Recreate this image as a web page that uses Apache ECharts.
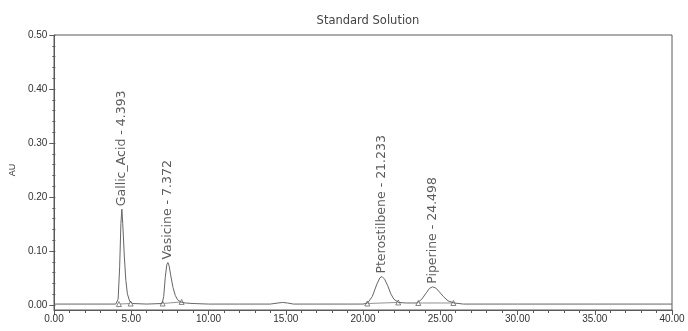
<!DOCTYPE html>
<html><head><meta charset="utf-8">
<script src="https://cdn.jsdelivr.net/npm/echarts@6/dist/echarts.min.js"></script>
<style>html,body{margin:0;padding:0;background:#fff}#c{width:688px;height:331px}</style>
</head><body><div id="c"></div>
<script>
// Chromatogram trace (retention time in min, absorbance AU)
const times = [0, 2, 4.0, 4.15, 4.25, 4.33, 4.393, 4.45, 4.55, 4.65,
  4.75, 4.9, 5.1, 6.0, 7.0, 7.1, 7.2, 7.3, 7.372, 7.45,
  7.55, 7.7, 7.85, 8.0, 8.2, 8.5, 9.0, 10, 12, 14,
  14.5, 14.8, 15.1, 15.5, 17, 19, 20.0, 20.3, 20.6, 20.9,
  21.1, 21.233, 21.4, 21.6, 21.8, 22.0, 22.3, 22.8, 23.2, 23.5,
  23.8, 24.1, 24.3, 24.498, 24.7, 24.9, 25.2, 25.5, 25.9, 26.5,
  30, 35, 40];
const au = [0.001, 0.001, 0.001, 0.010, 0.070, 0.150, 0.177, 0.150, 0.090, 0.045,
  0.020, 0.006, 0.002, 0.001, 0.002, 0.015, 0.050, 0.074, 0.078, 0.072,
  0.055, 0.032, 0.017, 0.009, 0.005, 0.003, 0.002, 0.001, 0.001, 0.001,
  0.003, 0.004, 0.003, 0.001, 0.001, 0.001, 0.001, 0.003, 0.015, 0.038,
  0.050, 0.052, 0.047, 0.035, 0.020, 0.010, 0.004, 0.003, 0.003, 0.003,
  0.010, 0.022, 0.030, 0.033, 0.031, 0.025, 0.015, 0.007, 0.003, 0.001,
  0.001, 0.001, 0.001];

// Identified peaks
const peakNames = ['Gallic_Acid', 'Vasicine', 'Pterostilbene', 'Piperine'];
const peakTimes = [4.393, 7.372, 21.233, 24.498];
const peakHeights = [0.177, 0.078, 0.052, 0.033];

// Integration baselines: start/end time and AU
const baseStartT = [4.2, 7.03, 20.28, 23.58];
const baseStartAU = [0.001, 0.002, 0.002, 0.003];
const baseEndT = [4.96, 8.26, 22.28, 25.85];
const baseEndAU = [0.002, 0.005, 0.004, 0.003];

const FONT = "'Liberation Sans Narrow','Liberation Sans',Arial,sans-serif";
const LFONT = "'DejaVu Sans',sans-serif";
const GRAY = '#5a5a5a';

const trace = times.map((t, i) => [t, au[i]]);
const peaks = peakTimes.map((t, i) => ({value: [t, peakHeights[i]], name: peakNames[i] + ' - ' + t.toFixed(3)}));

const baseSeries = baseStartT.map((t, i) => ({
  type: 'line', data: [[t, baseStartAU[i]], [baseEndT[i], baseEndAU[i]]],
  symbol: 'triangle', symbolSize: 5, showSymbol: true,
  lineStyle: {color: '#777', width: 0.8},
  itemStyle: {color: '#fff', borderColor: '#666', borderWidth: 0.8},
  silent: true, z: 3, animation: false
}));

const chart = echarts.init(document.getElementById('c'));
chart.setOption({
  animation: false,
  backgroundColor: '#fff',
  title: {text: 'Standard Solution', left: 363, textAlign: 'center', top: 10,
    textStyle: {fontFamily: LFONT, fontSize: 11.5, fontWeight: 'normal', color: '#444'}},
  grid: [
    {left: 54, right: 16, top: 35, bottom: 21, show: true, borderColor: GRAY, borderWidth: 1, backgroundColor: 'transparent'},
    {left: 54, right: 16, top: 35, bottom: 26, show: false}
  ],
  xAxis: [{
    type: 'value', min: 0, max: 40, interval: 5, gridIndex: 0,
    axisLine: {onZero: false, lineStyle: {color: GRAY}},
    axisTick: {show: true, length: 5, lineStyle: {color: GRAY}},
    minorTick: {show: true, splitNumber: 5, length: 3, lineStyle: {color: GRAY}},
    splitLine: {show: false},
    axisLabel: {formatter: v => v.toFixed(2), fontFamily: FONT, fontSize: 10, color: '#333', margin: 4}
  }, {
    type: 'value', min: 0, max: 40, gridIndex: 1, show: false
  }],
  yAxis: [{
    type: 'value', min: -0.01, max: 0.5, gridIndex: 0,
    axisLine: {show: true, onZero: false, lineStyle: {color: GRAY}},
    axisTick: {show: false}, axisLabel: {show: false}, splitLine: {show: false}
  }, {
    type: 'value', min: 0, max: 0.5, interval: 0.1, gridIndex: 1,
    name: 'AU', nameLocation: 'middle', nameGap: 38, nameRotate: 90,
    nameTextStyle: {fontFamily: FONT, fontSize: 9, color: '#333'},
    axisLine: {show: false},
    axisTick: {show: true, length: 6, lineStyle: {color: GRAY}},
    minorTick: {show: true, splitNumber: 5, length: 3, lineStyle: {color: GRAY}},
    splitLine: {show: false},
    axisLabel: {formatter: v => v.toFixed(2), fontFamily: FONT, fontSize: 10, color: '#333', margin: 8}
  }],
  series: [
    {type: 'line', data: trace, symbol: 'none', lineStyle: {color: '#666', width: 1}, z: 4, silent: true},
    ...baseSeries,
    {type: 'scatter', data: peaks, symbolSize: 0, z: 5, silent: true,
      label: {show: true, position: 'top', distance: 3, rotate: 90, align: 'left', verticalAlign: 'middle',
        formatter: p => p.name, fontFamily: LFONT, fontSize: 12.5, color: '#333'}}
  ]
});
</script></body></html>
